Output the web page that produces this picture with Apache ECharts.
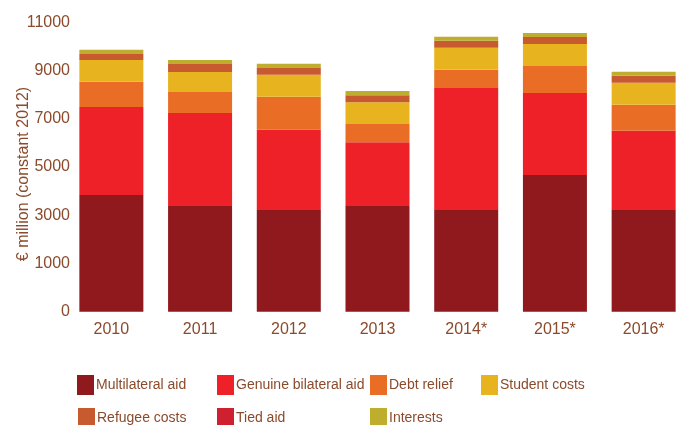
<!DOCTYPE html>
<html>
<head>
<meta charset="utf-8">
<script src="https://cdn.jsdelivr.net/npm/echarts@6/dist/echarts.min.js"></script>
<style>
html,body{margin:0;padding:0;background:#fff;}
#chart{width:677px;height:425px;}
</style>
</head>
<body>
<div id="chart"></div>
<script>
var categories = ['2010', '2011', '2012', '2013', '2014*', '2015*', '2016*'];
var yTickLabels = ['0', '1000', '3000', '5000', '7000', '9000', '11000'];
var multilateral = [4840, 4380, 4220, 4380, 4220, 5670, 4220];
var bilateral = [3650, 3860, 3320, 2650, 5060, 3400, 3280];
var debtRelief = [1040, 870, 1370, 750, 750, 1120, 1080];
var studentCosts = [910, 830, 910, 910, 910, 910, 910];
var refugeeCosts = [250, 330, 290, 290, 290, 290, 290];
var tiedAid = [0, 0, 0, 0, 0, 0, 0];
var interests = [170, 170, 170, 170, 170, 170, 170];

var FONT = '"Liberation Sans", Arial, sans-serif';
var TXT = '#8b4a2b';

function bar(name, data, color) {
  return { name: name, type: 'bar', stack: 'total', data: data, barWidth: 64,
           itemStyle: { color: color }, emphasis: { disabled: true } };
}

function leg(name, left, top) {
  return {
    left: left, top: top, itemWidth: 17, itemHeight: 20, padding: 0,
    icon: 'rect', selectedMode: false, data: [name],
    textStyle: { color: TXT, fontFamily: FONT, fontSize: 14, padding: [0, 0, 0, -3] }
  };
}

var chart = echarts.init(document.getElementById('chart'));
chart.setOption({
  animation: false,
  backgroundColor: '#fff',
  grid: { left: 67, top: 22.3, width: 621, height: 289.4, containLabel: false, outerBoundsMode: 'none' },
  legend: [
    leg('Multilateral aid', 77, 375),
    leg('Genuine bilateral aid', 217, 375),
    leg('Debt relief', 370, 375),
    leg('Student costs', 481, 375),
    leg('Refugee costs', 78, 408),
    leg('Tied aid', 217, 408),
    leg('Interests', 370, 408)
  ],
  xAxis: {
    type: 'category', data: categories,
    axisLine: { show: false }, axisTick: { show: false },
    axisLabel: { color: TXT, fontFamily: FONT, fontSize: 16, margin: 10 }
  },
  yAxis: {
    type: 'value', min: 0, max: 12000, interval: 2000,
    name: '€ million (constant 2012)', nameLocation: 'middle', nameGap: 35,
    nameRotate: 90, nameMoveOverlap: false,
    nameTextStyle: { color: TXT, fontFamily: FONT, fontSize: 16, padding: [0, 14, 0, 0] },
    axisLine: { show: false }, axisTick: { show: false }, splitLine: { show: false },
    axisLabel: {
      color: TXT, fontFamily: FONT, fontSize: 16, margin: -3,
      formatter: function (v) { return yTickLabels[Math.round(v / 2000)]; }
    }
  },
  series: [
    bar('Multilateral aid', multilateral, '#8f191d'),
    bar('Genuine bilateral aid', bilateral, '#ee2028'),
    bar('Debt relief', debtRelief, '#e96d24'),
    bar('Student costs', studentCosts, '#e7b420'),
    bar('Refugee costs', refugeeCosts, '#c85a30'),
    bar('Tied aid', tiedAid, '#cf2030'),
    bar('Interests', interests, '#bfad2e')
  ]
});
</script>
</body>
</html>
